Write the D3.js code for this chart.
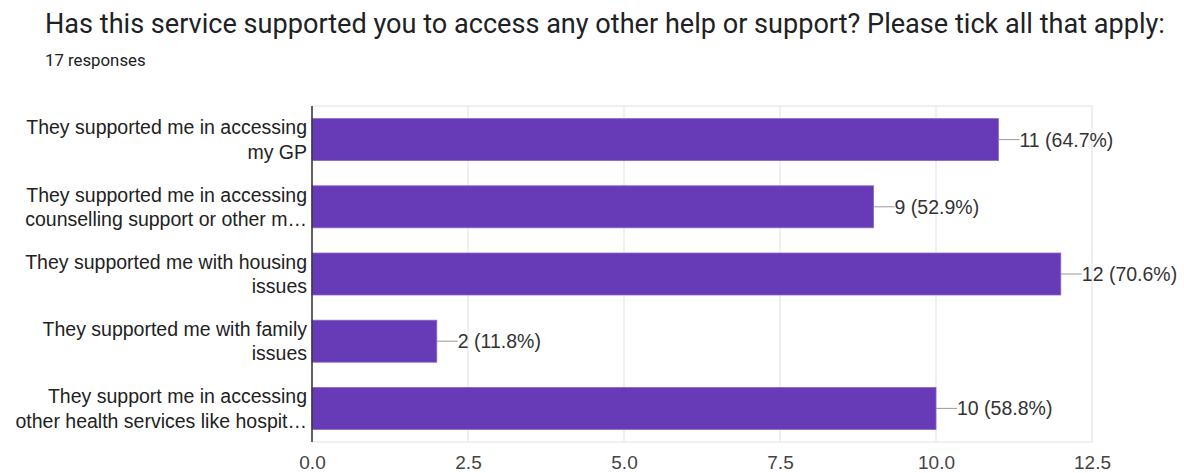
<!DOCTYPE html>
<html>
<head>
<meta charset="utf-8">
<script src="https://cdn.jsdelivr.net/npm/d3@7"></script>
<style>
  body { margin: 0; background: #fff; }
  svg { display: block; }
</style>
</head>
<body>
<svg id="chart" width="1184" height="473"></svg>
<script>
// Categories (already wrapped into lines, as shown in the chart)
const categories = [
  ["They supported me in accessing", "my GP"],
  ["They supported me in accessing", "counselling support or other m\u2026"],
  ["They supported me with housing", "issues"],
  ["They supported me with family", "issues"],
  ["They support me in accessing", "other health services like hospit\u2026"]
];
const counts = [11, 9, 12, 2, 10];
const percents = ["64.7%", "52.9%", "70.6%", "11.8%", "58.8%"];
const ticks = [0, 2.5, 5, 7.5, 10, 12.5];

const svg = d3.select("#chart");

// Title + subtitle
svg.append("text")
  .attr("x", 45).attr("y", 33)
  .attr("font-family", "Roboto")
  .attr("font-size", 27.1)
  .attr("fill", "#202124")
  .text("Has this service supported you to access any other help or support? Please tick all that apply:");

svg.append("text")
  .attr("x", 45).attr("y", 66)
  .attr("font-family", "Roboto")
  .attr("font-size", 16.8)
  .attr("fill", "#202124")
  .text("17 responses");

const margin = {top: 106, left: 312};
const innerWidth = 1092 - margin.left;
const innerHeight = 442 - margin.top;
const labelFont = "Liberation Sans, Arial";

const g = svg.append("g").attr("transform", `translate(${margin.left},${margin.top})`);

const x = d3.scaleLinear().domain([0, 12.5]).range([0, innerWidth]);
const y = d3.scaleBand()
  .domain(d3.range(categories.length))
  .range([0, innerHeight])
  .paddingInner(0.375)
  .paddingOuter(0.1875);

// grid
g.selectAll(".vgrid").data(ticks).enter().append("line")
  .attr("x1", d => x(d)).attr("x2", d => x(d))
  .attr("y1", 0).attr("y2", innerHeight)
  .attr("stroke", "#ebebeb").attr("stroke-width", 1.5);
g.append("line").attr("x1", 0).attr("x2", innerWidth).attr("y1", 0).attr("y2", 0)
  .attr("stroke", "#ebebeb").attr("stroke-width", 1.5);
g.append("line").attr("x1", 0).attr("x2", innerWidth).attr("y1", innerHeight).attr("y2", innerHeight)
  .attr("stroke", "#ebebeb").attr("stroke-width", 1.5);

// x axis
const xAxis = d3.axisBottom(x).tickValues(ticks).tickFormat(d3.format(".1f")).tickSize(0).tickPadding(14);
const xAxisG = g.append("g").attr("transform", `translate(0,${innerHeight})`).call(xAxis);
xAxisG.select(".domain").remove();
xAxisG.selectAll("text")
  .attr("font-family", labelFont)
  .attr("font-size", 19)
  .attr("fill", "#444");

// bars
g.selectAll(".bar").data(counts).enter().append("rect")
  .attr("x", 0)
  .attr("y", (d, i) => y(i))
  .attr("width", d => x(d))
  .attr("height", y.bandwidth())
  .attr("fill", "#673ab7")
  .attr("stroke", "#8a68c8").attr("stroke-width", 0.8);

// leader lines and value labels
g.selectAll(".lead").data(counts).enter().append("line")
  .attr("x1", d => x(d)).attr("x2", d => x(d) + 21)
  .attr("y1", (d, i) => y(i) + y.bandwidth() / 2)
  .attr("y2", (d, i) => y(i) + y.bandwidth() / 2)
  .attr("stroke", "#999").attr("stroke-width", 1);

g.selectAll(".val").data(counts).enter().append("text")
  .attr("x", d => x(d) + 21)
  .attr("y", (d, i) => y(i) + y.bandwidth() / 2)
  .attr("dy", "0.36em")
  .attr("font-family", labelFont)
  .attr("font-size", 19.5)
  .attr("fill", "#333")
  .text((d, i) => `${d} (${percents[i]})`);

// y axis line
g.append("line").attr("x1", 0).attr("x2", 0).attr("y1", 0).attr("y2", innerHeight)
  .attr("stroke", "#333").attr("stroke-width", 1.5);

// y labels
const lab = g.selectAll(".ylab").data(categories).enter().append("text")
  .attr("text-anchor", "end")
  .attr("font-family", labelFont)
  .attr("font-size", 19.5)
  .attr("fill", "#222")
  .attr("transform", (d, i) => `translate(-5,${y(i) + y.bandwidth() / 2})`);
lab.selectAll("tspan").data(d => d).enter().append("tspan")
  .attr("x", 0)
  .attr("y", (d, j, arr) => (j - (arr.length - 1) / 2) * 24.5)
  .attr("dy", "0.36em")
  .text(d => d);
</script>
</body>
</html>
